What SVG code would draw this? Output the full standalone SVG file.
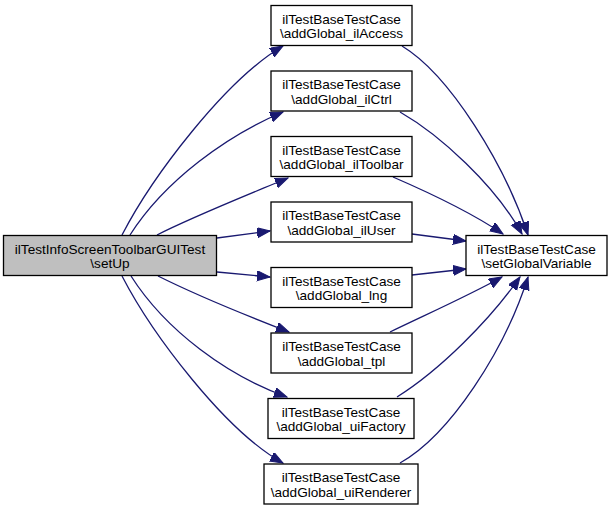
<svg xmlns="http://www.w3.org/2000/svg" width="613" height="509" viewBox="0 0 613 509">
<style>
.n rect{fill:#ffffff;stroke:#000000;stroke-width:1.3}
.cur rect{fill:#bfbfbf}
text{font-family:"Liberation Sans",Arial,sans-serif;font-size:13.6px;text-anchor:middle;fill:#000000}
.e path{fill:none;stroke:#191970;stroke-width:1.3;marker-end:url(#ah)}
</style>
<defs>
<marker id="ah" markerUnits="userSpaceOnUse" markerWidth="14" markerHeight="11" refX="13" refY="5" orient="auto">
<path d="M0,0 L13,5 L0,10 z" fill="#191970" stroke="#191970" stroke-width="1"/>
</marker>
</defs>
<rect width="613" height="509" fill="#ffffff"/>
<g id="connectors" class="e">
<path d="M122,235 C152,177 225,80 283,46"/>
<path d="M130,235 C165,180 228,135 283,112"/>
<path d="M157,235 C190,218 240,198 288,178"/>
<path d="M217,238 L270,231"/>
<path d="M217,272 L270,277"/>
<path d="M158,276 C190,292 245,315 289,332"/>
<path d="M131,276 C166,331 228,376 287,397"/>
<path d="M122,276 C152,334 225,431 283,463"/>
<path d="M402,46 C450,75 505,165 528,235"/>
<path d="M400,112 C440,135 495,185 522,234"/>
<path d="M393,177 C430,193 475,215 503,234"/>
<path d="M412,234 L466,241"/>
<path d="M412,275 L466,269"/>
<path d="M390,332 C425,315 470,295 502,277"/>
<path d="M397,397 C440,370 490,320 520,277"/>
<path d="M400,463 C450,435 505,350 528,277"/>
</g>
<g id="node_setUp" class="n cur">
<rect x="3.5" y="235.5" width="213" height="40"/>
<text x="110" y="253.5">ilTestInfoScreenToolbarGUITest</text>
<text x="110" y="268">\setUp</text>
</g>
<g id="node_ilAccess" class="n">
<rect x="271" y="5.5" width="141" height="40"/>
<text x="341.5" y="23.5">ilTestBaseTestCase</text>
<text x="341.5" y="38">\addGlobal_ilAccess</text>
</g>
<g id="node_ilCtrl" class="n">
<rect x="271" y="71" width="141" height="40"/>
<text x="341.5" y="89">ilTestBaseTestCase</text>
<text x="341.5" y="103.5">\addGlobal_ilCtrl</text>
</g>
<g id="node_ilToolbar" class="n">
<rect x="271" y="136.5" width="141" height="40"/>
<text x="341.5" y="154.5">ilTestBaseTestCase</text>
<text x="341.5" y="169">\addGlobal_ilToolbar</text>
</g>
<g id="node_ilUser" class="n">
<rect x="271" y="202" width="141" height="40"/>
<text x="341.5" y="220">ilTestBaseTestCase</text>
<text x="341.5" y="234.5">\addGlobal_ilUser</text>
</g>
<g id="node_lng" class="n">
<rect x="271" y="267.5" width="141" height="40"/>
<text x="341.5" y="285.5">ilTestBaseTestCase</text>
<text x="341.5" y="300">\addGlobal_lng</text>
</g>
<g id="node_tpl" class="n">
<rect x="271" y="333" width="141" height="40"/>
<text x="341.5" y="351">ilTestBaseTestCase</text>
<text x="341.5" y="365.5">\addGlobal_tpl</text>
</g>
<g id="node_uiFactory" class="n">
<rect x="268" y="398.5" width="146" height="40"/>
<text x="341" y="416.5">ilTestBaseTestCase</text>
<text x="341" y="431">\addGlobal_uiFactory</text>
</g>
<g id="node_uiRenderer" class="n">
<rect x="264" y="464" width="154" height="40"/>
<text x="341" y="482">ilTestBaseTestCase</text>
<text x="341" y="496.5">\addGlobal_uiRenderer</text>
</g>
<g id="node_setGlobalVariable" class="n">
<rect x="466" y="235.5" width="141" height="40"/>
<text x="536.5" y="253.5">ilTestBaseTestCase</text>
<text x="536.5" y="268">\setGlobalVariable</text>
</g>
</svg>
